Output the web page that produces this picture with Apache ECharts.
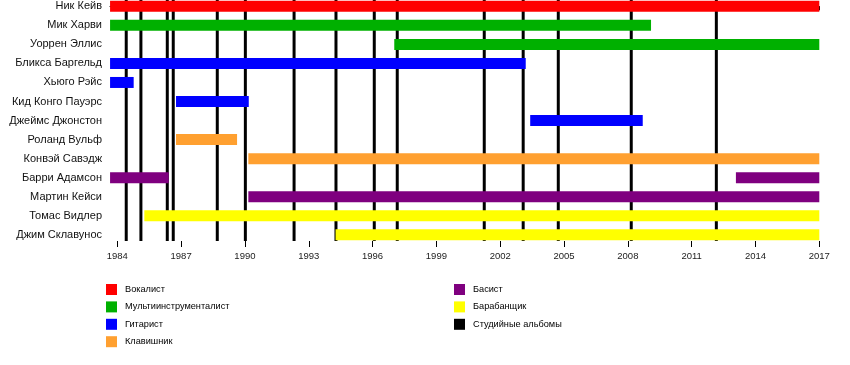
<!DOCTYPE html>
<html>
<head>
<meta charset="utf-8">
<script src="https://cdn.jsdelivr.net/npm/echarts@6/dist/echarts.min.js"></script>
<style>html,body{margin:0;padding:0;background:#fff}#c{width:850px;height:365px}</style>
</head>
<body>
<div id="c"></div>
<script>
// ---- data ----
const members = ['Ник Кейв','Мик Харви','Уоррен Эллис','Бликса Баргельд','Хьюго Рэйс','Кид Конго Пауэрс','Джеймс Джонстон','Роланд Вульф','Конвэй Савэдж','Барри Адамсон','Мартин Кейси','Томас Видлер','Джим Склавунос'];
const roles = ['Вокалист','Мультиинструменталист','Гитарист','Клавишник','Басист','Барабанщик'];
const albumLabel = 'Студийные альбомы';
// role index of each member
const memberRole = [0,1,1,2,2,2,2,3,3,4,4,5,5];
// membership periods (decimal years)
const periodMember = [0,1,2,3,4,5,6,7,8,9,9,10,11,12];
const periodStart  = [1983.66,1983.66,1997.02,1983.66,1983.66,1986.76,2003.41,1986.76,1990.16,1983.66,2013.08,1990.16,1985.27,1994.26];
const periodEnd    = [2017,2009.09,2017,2003.20,1984.77,1990.18,2008.70,1989.63,2017,1986.42,2017,2017,2017,2017];
// studio album release dates (decimal years)
const albums = [1984.42,1985.11,1986.35,1986.63,1988.70,1990.02,1992.31,1994.28,1996.08,1997.16,2001.25,2003.08,2004.73,2008.16,2012.16];
const tickYears = [1984,1987,1990,1993,1996,1999,2002,2005,2008,2011,2014,2017];
const minorYears = [];
for (let y = 1984; y <= 2017; y++) minorYears.push(y);

// ---- styles ----
const roleColors = ['#ff0000','#00b000','#0000ff','#ffa030','#7f007f','#ffff00'];
const FONT = 'Liberation Sans, Arial, sans-serif';

const chart = echarts.init(document.getElementById('c'));

const barSeries = roles.map((r, ri) => ({
  name: r,
  type: 'custom',
  z: 3,
  itemStyle: { color: roleColors[ri] },
  encode: { x: [1, 2], y: 0 },
  data: periodMember.map((m, i) => [m, periodStart[i], periodEnd[i]]).filter(d => memberRole[d[0]] === ri),
  renderItem: (params, api) => {
    const s = api.coord([api.value(1), api.value(0)]);
    const e = api.coord([api.value(2), api.value(0)]);
    return { type: 'rect', shape: { x: s[0], y: s[1] - 5.5, width: e[0] - s[0], height: 11 }, style: { fill: api.visual('color') } };
  }
}));

const albumSeries = {
  name: albumLabel,
  type: 'custom',
  z: 2,
  itemStyle: { color: '#000' },
  encode: { x: 0, y: 1 },
  data: albums.map(a => [a, 0]),
  renderItem: (params, api) => {
    const p = api.coord([api.value(0), 0]);
    const cs = params.coordSys;
    return { type: 'rect', shape: { x: p[0] - 1.5, y: cs.y, width: 3, height: cs.height }, style: { fill: '#000' } };
  }
};

const legendBase = {
  orient: 'vertical', padding: 0, itemWidth: 11, itemHeight: 11, itemGap: 6.4, icon: 'rect',
  selectedMode: false,
  textStyle: { fontFamily: FONT, fontSize: 9.2, color: '#000', padding: [0, 0, 0, 3] }
};

chart.setOption({
  animation: false,
  grid: { left: 110, top: 0, width: 709.3, height: 241 },
  xAxis: [{
    type: 'value', min: 1983.657, max: 2017,
    axisLine: { show: true, lineStyle: { color: '#000', width: 1 } },
    axisTick: { show: true, customValues: minorYears, length: 4, lineStyle: { color: '#000' } },
    axisLabel: { customValues: tickYears, formatter: v => String(v), fontFamily: FONT, fontSize: 9.5, color: '#222', margin: 10 },
    splitLine: { show: false }
  }, {
    type: 'value', min: 1983.657, max: 2017, position: 'bottom',
    axisLine: { show: false },
    axisTick: { show: true, customValues: tickYears, length: 6, lineStyle: { color: '#000' } },
    axisLabel: { show: false },
    splitLine: { show: false }
  }],
  yAxis: {
    type: 'value', inverse: true, min: -0.331, max: 12.326,
    axisLine: { show: false }, axisTick: { show: false }, splitLine: { show: false },
    axisLabel: {
      customValues: members.map((m, i) => i),
      formatter: v => members[Math.round(v)],
      fontFamily: FONT, fontSize: 11, color: '#111', margin: 8
    }
  },
  legend: [
    Object.assign({}, legendBase, { left: 106, top: 284, data: roles.slice(0, 4) }),
    Object.assign({}, legendBase, { left: 454, top: 284, data: [roles[4], roles[5], albumLabel] })
  ],
  series: [albumSeries].concat(barSeries)
});
</script>
</body>
</html>
